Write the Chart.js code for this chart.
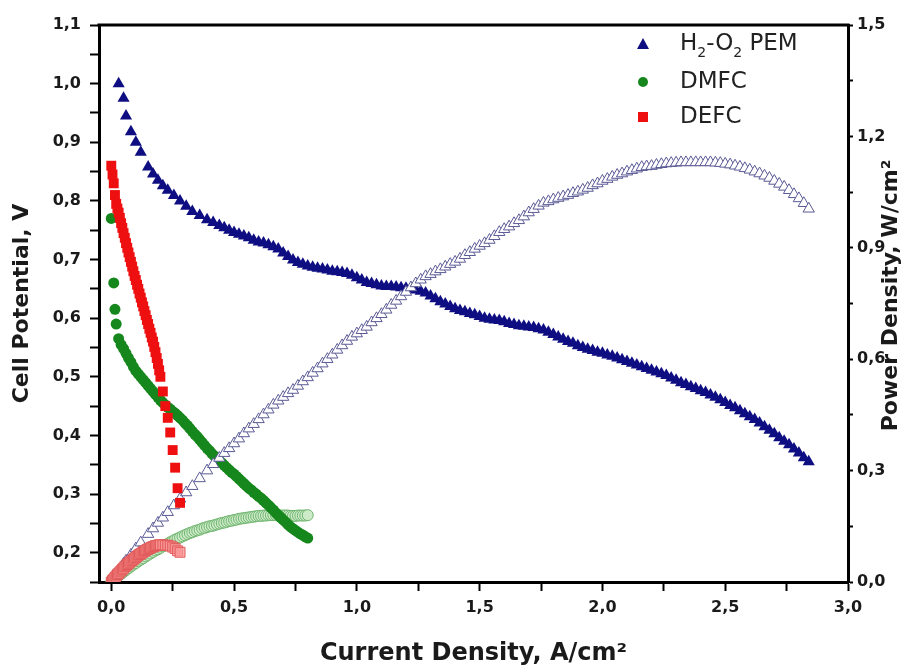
<!DOCTYPE html>
<html>
<head>
<meta charset="utf-8">
<script src="https://cdn.jsdelivr.net/npm/chart.js@4.4.1/dist/chart.umd.min.js"></script>
<style>
  html, body { margin: 0; padding: 0; background: #fff; }
  #wrap { width: 908px; height: 668px; }
</style>
</head>
<body>
<div id="wrap"><canvas id="fuelCellChart"></canvas></div>
<script>
// Values: current density (A/cm2), cell potential (V), power density (W/cm2)
const pemCurrent = [0.03, 0.05, 0.06, 0.08, 0.10, 0.12, 0.15, 0.17, 0.19, 0.21, 0.23, 0.255, 0.28, 0.305, 0.33, 0.36, 0.39, 0.415,
  0.44, 0.46, 0.48, 0.50, 0.52, 0.54, 0.56, 0.58, 0.60, 0.62, 0.64, 0.66, 0.68, 0.70, 0.72, 0.74, 0.76, 0.78, 0.80, 0.82,
  0.84, 0.86, 0.88, 0.90, 0.92, 0.94, 0.96, 0.98, 1.00, 1.02, 1.04, 1.06, 1.08, 1.10, 1.12, 1.14, 1.16, 1.18, 1.20, 1.22,
  1.24, 1.26, 1.28, 1.30, 1.32, 1.34, 1.36, 1.38, 1.40, 1.42, 1.44, 1.46, 1.48, 1.50, 1.52, 1.54, 1.56, 1.58, 1.60, 1.62,
  1.64, 1.66, 1.68, 1.70, 1.72, 1.74, 1.76, 1.78, 1.80, 1.82, 1.84, 1.86, 1.88, 1.90, 1.92, 1.94, 1.96, 1.98, 2.00, 2.02,
  2.04, 2.06, 2.08, 2.10, 2.12, 2.14, 2.16, 2.18, 2.20, 2.22, 2.24, 2.26, 2.28, 2.30, 2.32, 2.34, 2.36, 2.38, 2.40, 2.42,
  2.44, 2.46, 2.48, 2.50, 2.52, 2.54, 2.56, 2.58, 2.60, 2.62, 2.64, 2.66, 2.68, 2.70, 2.72, 2.74, 2.76, 2.78, 2.80, 2.82, 2.84];
const pemVoltage = [1.00, 0.975, 0.945, 0.918, 0.90, 0.883, 0.858, 0.846, 0.835, 0.826, 0.818, 0.809, 0.80, 0.791, 0.782, 0.775, 0.768, 0.763,
  0.758, 0.754, 0.750, 0.746, 0.743, 0.740, 0.737, 0.733, 0.730, 0.728, 0.725, 0.722, 0.718, 0.711, 0.705, 0.699, 0.695, 0.692, 0.689, 0.687,
  0.685, 0.684, 0.682, 0.680, 0.679, 0.678, 0.676, 0.673, 0.669, 0.665, 0.661, 0.659, 0.657, 0.655, 0.654, 0.654, 0.653, 0.652, 0.651, 0.650,
  0.648, 0.646, 0.643, 0.638, 0.633, 0.628, 0.624, 0.620, 0.616, 0.613, 0.611, 0.608, 0.606, 0.603, 0.600, 0.598, 0.597, 0.596, 0.594, 0.591,
  0.589, 0.587, 0.586, 0.585, 0.584, 0.582, 0.580, 0.576, 0.572, 0.568, 0.564, 0.560, 0.557, 0.553, 0.550, 0.547, 0.545, 0.542, 0.540, 0.537,
  0.535, 0.532, 0.529, 0.526, 0.523, 0.520, 0.517, 0.514, 0.511, 0.508, 0.505, 0.502, 0.498, 0.494, 0.490, 0.487, 0.483, 0.480, 0.476, 0.473,
  0.469, 0.465, 0.461, 0.456, 0.451, 0.447, 0.442, 0.437, 0.432, 0.427, 0.421, 0.415, 0.409, 0.403, 0.396, 0.390, 0.384, 0.377, 0.370, 0.362, 0.355];
const pemPower = [0.03, 0.049, 0.057, 0.073, 0.09, 0.106, 0.129, 0.144, 0.159, 0.173, 0.188, 0.206, 0.224, 0.241, 0.258, 0.279, 0.30, 0.317,
  0.334, 0.347, 0.360, 0.373, 0.386, 0.400, 0.413, 0.425, 0.438, 0.451, 0.464, 0.477, 0.488, 0.498, 0.508, 0.517, 0.528, 0.540, 0.551, 0.563,
  0.575, 0.588, 0.600, 0.612, 0.625, 0.637, 0.649, 0.660, 0.669, 0.678, 0.687, 0.699, 0.710, 0.721, 0.733, 0.746, 0.757, 0.769, 0.781, 0.793,
  0.804, 0.814, 0.823, 0.829, 0.836, 0.842, 0.849, 0.856, 0.862, 0.870, 0.880, 0.888, 0.897, 0.905, 0.912, 0.921, 0.931, 0.942, 0.950, 0.957,
  0.966, 0.974, 0.984, 0.995, 1.004, 1.013, 1.021, 1.025, 1.030, 1.034, 1.038, 1.042, 1.047, 1.051, 1.056, 1.061, 1.068, 1.073, 1.080, 1.085,
  1.091, 1.096, 1.100, 1.105, 1.109, 1.113, 1.117, 1.119, 1.120, 1.123, 1.125, 1.127, 1.128, 1.129, 1.130, 1.130, 1.130, 1.130, 1.130, 1.130,
  1.130, 1.129, 1.128, 1.126, 1.124, 1.121, 1.118, 1.114, 1.110, 1.105, 1.100, 1.094, 1.088, 1.080, 1.072, 1.064, 1.055, 1.044, 1.033, 1.020, 1.005];

const dmfcCurrent = [0, 0.01, 0.015, 0.02, 0.03, 0.04, 0.05,
  0.06, 0.07, 0.08, 0.09, 0.10, 0.11, 0.12, 0.13, 0.14, 0.15, 0.16, 0.17, 0.18, 0.19, 0.20,
  0.21, 0.22, 0.23, 0.24, 0.25, 0.26, 0.27, 0.28, 0.29, 0.30, 0.31, 0.32, 0.33, 0.34, 0.35,
  0.36, 0.37, 0.38, 0.39, 0.40, 0.41, 0.42, 0.43, 0.44, 0.45, 0.46, 0.47, 0.48, 0.49, 0.50,
  0.51, 0.52, 0.53, 0.54, 0.55, 0.56, 0.57, 0.58, 0.59, 0.60, 0.61, 0.62, 0.63, 0.64, 0.65,
  0.66, 0.67, 0.68, 0.69, 0.70, 0.71, 0.72, 0.73, 0.74, 0.75, 0.76, 0.77, 0.78, 0.79, 0.80];
const dmfcVoltage = [0.77, 0.66, 0.615, 0.59, 0.565, 0.555, 0.548,
  0.540, 0.532, 0.525, 0.517, 0.510, 0.505, 0.500, 0.495, 0.490, 0.485, 0.480, 0.475, 0.470, 0.465, 0.460,
  0.456, 0.452, 0.448, 0.445, 0.441, 0.438, 0.434, 0.430, 0.426, 0.421, 0.417, 0.412, 0.407, 0.402, 0.398,
  0.393, 0.388, 0.383, 0.378, 0.374, 0.369, 0.365, 0.361, 0.357, 0.353, 0.349, 0.345, 0.341, 0.337, 0.334,
  0.330, 0.326, 0.322, 0.318, 0.314, 0.310, 0.307, 0.303, 0.300, 0.296, 0.293, 0.289, 0.285, 0.281, 0.277,
  0.273, 0.268, 0.264, 0.260, 0.256, 0.252, 0.248, 0.244, 0.241, 0.238, 0.235, 0.232, 0.230, 0.227, 0.225];
const dmfcPower = [0, 0.007, 0.009, 0.012, 0.017, 0.022, 0.027,
  0.032, 0.037, 0.042, 0.047, 0.051, 0.056, 0.060, 0.064, 0.069, 0.073, 0.077, 0.081, 0.085, 0.088, 0.092,
  0.096, 0.099, 0.103, 0.107, 0.110, 0.114, 0.117, 0.120, 0.123, 0.126, 0.129, 0.132, 0.134, 0.137, 0.139,
  0.141, 0.144, 0.146, 0.148, 0.150, 0.151, 0.153, 0.155, 0.157, 0.159, 0.160, 0.162, 0.164, 0.165, 0.167,
  0.168, 0.170, 0.171, 0.172, 0.173, 0.174, 0.175, 0.176, 0.177, 0.178, 0.178, 0.179, 0.179, 0.180, 0.180,
  0.180, 0.180, 0.180, 0.179, 0.179, 0.179, 0.179, 0.178, 0.178, 0.178, 0.179, 0.179, 0.179, 0.179, 0.180];

const defcCurrent = [0, 0.005, 0.01, 0.015, 0.02, 0.025, 0.03, 0.035, 0.04, 0.045,
  0.05, 0.055, 0.06, 0.065, 0.07, 0.075, 0.08, 0.085, 0.09, 0.095,
  0.10, 0.105, 0.11, 0.115, 0.12, 0.125, 0.13, 0.135, 0.14, 0.145,
  0.15, 0.155, 0.16, 0.165, 0.17, 0.175, 0.18, 0.185, 0.19, 0.195, 0.20,
  0.21, 0.22, 0.23, 0.24, 0.25, 0.26, 0.27, 0.28];
const defcVoltage = [0.86, 0.845, 0.83, 0.81, 0.795, 0.787, 0.78, 0.771, 0.762, 0.754,
  0.745, 0.737, 0.728, 0.720, 0.712, 0.704, 0.696, 0.688, 0.68, 0.672,
  0.665, 0.657, 0.65, 0.642, 0.635, 0.627, 0.62, 0.612, 0.605, 0.597,
  0.59, 0.582, 0.575, 0.567, 0.56, 0.551, 0.542, 0.532, 0.522, 0.511, 0.50,
  0.475, 0.45, 0.43, 0.405, 0.375, 0.345, 0.31, 0.285];
const defcPower = [0, 0.004, 0.008, 0.012, 0.016, 0.020, 0.023, 0.027, 0.030, 0.034,
  0.037, 0.041, 0.044, 0.047, 0.050, 0.053, 0.056, 0.058, 0.061, 0.064,
  0.066, 0.069, 0.072, 0.074, 0.076, 0.078, 0.081, 0.083, 0.085, 0.087,
  0.089, 0.090, 0.092, 0.094, 0.095, 0.096, 0.098, 0.098, 0.099, 0.100, 0.100,
  0.100, 0.099, 0.099, 0.097, 0.094, 0.090, 0.084, 0.080];

const pemColor = 'rgb(14, 14, 130)';
const dmfcColor = 'rgb(22, 135, 28)';
const defcColor = 'rgb(238, 16, 16)';
const fontFamily = '"DejaVu Sans", sans-serif';

const pairs = (xs, ys) => xs.map((x, i) => ({ x: x, y: ys[i] }));
const comma = v => v.toFixed(1).replace('.', ',');

// frame line along the top of the plot + right-hand axis title (reads bottom to top)
const framePlugin = {
  id: 'frame',
  afterDraw(chart) {
    const { ctx, chartArea } = chart;
    ctx.save();
    ctx.strokeStyle = '#000';
    ctx.lineWidth = 3;
    ctx.beginPath();
    ctx.moveTo(chartArea.left - 1.5, chartArea.top);
    ctx.lineTo(chartArea.right + 1.5, chartArea.top);
    ctx.stroke();

    ctx.translate(891, (chartArea.top + chartArea.bottom) / 2 - 8);
    ctx.rotate(-Math.PI / 2);
    ctx.font = 'bold 22px ' + fontFamily;
    ctx.fillStyle = '#1a1a1a';
    ctx.textAlign = 'center';
    ctx.textBaseline = 'middle';
    ctx.fillText('Power Density, W/cm²', 0, 0);
    ctx.restore();
  }
};

// legend in the top right corner of the plot
const legendPlugin = {
  id: 'cornerLegend',
  afterDraw(chart) {
    const { ctx, chartArea } = chart;
    const mx = chartArea.right - 205;
    const tx = chartArea.right - 168;
    const rows = [chartArea.top + 19, chartArea.top + 57, chartArea.top + 92];
    ctx.save();

    ctx.fillStyle = pemColor;
    ctx.beginPath();
    ctx.moveTo(mx, rows[0] - 6);
    ctx.lineTo(mx + 6, rows[0] + 5);
    ctx.lineTo(mx - 6, rows[0] + 5);
    ctx.closePath();
    ctx.fill();

    ctx.fillStyle = dmfcColor;
    ctx.beginPath();
    ctx.arc(mx, rows[1], 5, 0, Math.PI * 2);
    ctx.fill();

    ctx.fillStyle = defcColor;
    ctx.fillRect(mx - 5, rows[2] - 5, 10, 10);

    ctx.fillStyle = '#222';
    ctx.textBaseline = 'middle';
    ctx.textAlign = 'left';
    const parts = [['H', 0], ['2', 1], ['-O', 0], ['2', 1], [' PEM', 0]];
    let x = tx;
    parts.forEach(([txt, sub]) => {
      ctx.font = (sub ? '14px ' : '23px ') + fontFamily;
      ctx.fillText(txt, x, rows[0] + (sub ? 9 : 0));
      x += ctx.measureText(txt).width;
    });
    ctx.font = '23px ' + fontFamily;
    ctx.fillText('DMFC', tx, rows[1]);
    ctx.fillText('DEFC', tx, rows[2]);
    ctx.restore();
  }
};

const ctx = document.getElementById('fuelCellChart').getContext('2d');

new Chart(ctx, {
  type: 'scatter',
  data: {
    datasets: [
      {
        label: 'DEFC',
        data: pairs(defcCurrent, defcVoltage),
        yAxisID: 'y',
        pointStyle: 'rect',
        pointRadius: 7,
        backgroundColor: defcColor,
        borderColor: defcColor,
        borderWidth: 0
      },
      {
        label: 'DEFC power',
        data: pairs(defcCurrent, defcPower),
        yAxisID: 'y2',
        pointStyle: 'rect',
        pointRadius: 7,
        backgroundColor: 'rgba(250, 150, 150, 0.75)',
        borderColor: 'rgb(225, 90, 90)',
        borderWidth: 1
      },
      {
        label: 'H2-O2 PEM power',
        data: pairs(pemCurrent, pemPower),
        yAxisID: 'y2',
        pointStyle: 'triangle',
        pointRadius: 6.5,
        backgroundColor: '#fff',
        borderColor: 'rgb(90, 90, 150)',
        borderWidth: 1
      },
      {
        label: 'DMFC',
        data: pairs(dmfcCurrent, dmfcVoltage),
        yAxisID: 'y',
        pointStyle: 'circle',
        pointRadius: 5.5,
        backgroundColor: dmfcColor,
        borderColor: dmfcColor,
        borderWidth: 0
      },
      {
        label: 'DMFC power',
        data: pairs(dmfcCurrent, dmfcPower),
        yAxisID: 'y2',
        pointStyle: 'circle',
        pointRadius: 5.5,
        backgroundColor: 'rgb(205, 235, 200)',
        borderColor: 'rgb(110, 180, 110)',
        borderWidth: 1
      },
      {
        label: 'H2-O2 PEM',
        data: pairs(pemCurrent, pemVoltage),
        yAxisID: 'y',
        pointStyle: 'triangle',
        pointRadius: 7,
        backgroundColor: pemColor,
        borderColor: pemColor,
        borderWidth: 0
      }
    ]
  },
  options: {
    responsive: true,
    maintainAspectRatio: false,
    animation: false,
    layout: { padding: { top: 25, left: 0, right: 0, bottom: 0 } },
    plugins: {
      legend: { display: false },
      tooltip: { enabled: false }
    },
    scales: {
      x: {
        type: 'linear',
        position: 'bottom',
        min: -0.05,
        max: 3.0,
        afterFit: scale => { scale.height = 86; },
        border: { display: true, color: '#000', width: 3 },
        grid: { drawOnChartArea: false, drawTicks: true, tickLength: 9, tickWidth: 2, tickColor: '#000' },
        ticks: {
          stepSize: 0.25,
          includeBounds: false,
          autoSkip: false,
          maxRotation: 0,
          padding: 7,
          color: '#1a1a1a',
          font: { family: fontFamily, size: 16, weight: 'bold' },
          callback: v => (Math.round(v * 100) % 50 === 0 ? comma(v) : '')
        },
        title: {
          display: true,
          text: 'Current Density, A/cm²',
          color: '#1a1a1a',
          font: { family: fontFamily, size: 24, weight: 'bold' },
          padding: { top: 0, bottom: 0 }
        }
      },
      y: {
        type: 'linear',
        position: 'left',
        min: 0.15,
        max: 1.1,
        afterFit: scale => { scale.width = 99; },
        border: { display: true, color: '#000', width: 3 },
        grid: { drawOnChartArea: false, drawTicks: true, tickLength: 9, tickWidth: 2, tickColor: '#000' },
        ticks: {
          stepSize: 0.05,
          includeBounds: false,
          autoSkip: false,
          padding: 9,
          color: '#1a1a1a',
          font: { family: fontFamily, size: 16, weight: 'bold' },
          callback: v => (Math.round(v * 100) % 10 === 0 ? comma(v) : '')
        },
        title: {
          display: true,
          text: 'Cell Potential, V',
          color: '#1a1a1a',
          font: { family: fontFamily, size: 22, weight: 'bold' },
          padding: { top: 9, bottom: 0 }
        }
      },
      y2: {
        type: 'linear',
        position: 'right',
        min: 0,
        max: 1.5,
        afterFit: scale => { scale.width = 60; },
        border: { display: true, color: '#000', width: 3 },
        grid: { drawOnChartArea: false, drawTicks: true, tickLength: 5, tickWidth: 2, tickColor: '#000' },
        ticks: {
          stepSize: 0.15,
          autoSkip: false,
          padding: 4,
          color: '#1a1a1a',
          font: { family: fontFamily, size: 16, weight: 'bold' },
          callback: v => (Math.round(v * 100) % 30 === 0 ? comma(v) : '')
        }
      }
    }
  },
  plugins: [framePlugin, legendPlugin]
});
</script>
</body>
</html>
